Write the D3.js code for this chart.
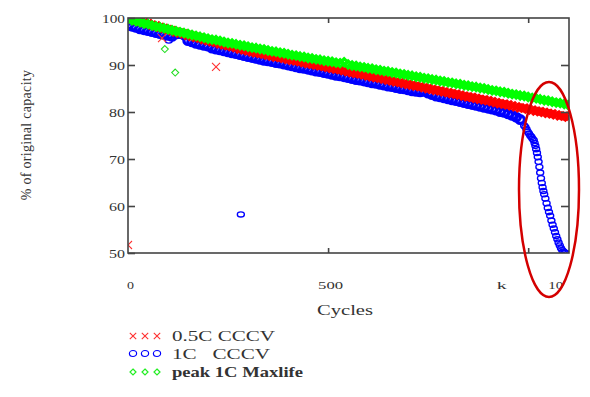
<!DOCTYPE html>
<html>
<head>
<meta charset="utf-8">
<script src="https://cdn.jsdelivr.net/npm/d3@7"></script>
<style>
  body { margin: 0; background: #fff; }
  text { font-family: "Liberation Serif", "Times New Roman", serif; fill: #333; }
</style>
</head>
<body>
<div class="chart"></div>
<script>
// Capacity readings, % of original, sampled every 10 cycles
var redValues = [
  100.0, 99.8, 99.5, 99.3, 99.0, 98.8, 98.5, 98.3, 98.0, 97.8, 97.5,
  97.3, 97.0, 96.8, 96.6, 96.3, 96.1, 95.9, 95.7, 95.4, 95.2,
  95.0, 94.8, 94.5, 94.3, 94.1, 93.9, 93.7, 93.4, 93.2, 93.0,
  92.8, 92.6, 92.5, 92.3, 92.1, 91.9, 91.7, 91.6, 91.4, 91.2,
  91.0, 90.9, 90.7, 90.5, 90.3, 90.2, 90.0, 89.8, 89.7, 89.5,
  89.3, 89.1, 89.0, 88.8, 88.6, 88.4, 88.2, 88.1, 87.9, 87.7,
  87.5, 87.3, 87.2, 87.0, 86.8, 86.6, 86.4, 86.3, 86.1, 85.9,
  85.7, 85.5, 85.4, 85.2, 85.0, 84.8, 84.6, 84.5, 84.3, 84.1,
  83.9, 83.8, 83.6, 83.4, 83.2, 83.1, 82.9, 82.7, 82.6, 82.4,
  82.2, 82.0, 81.8, 81.7, 81.5, 81.3, 81.1, 80.9, 80.8, 80.6,
  80.4, 80.2, 80.1, 79.9, 79.7, 79.6, 79.4, 79.2, 79.1, 78.9
];

var greenValues = [
  99.8, 99.5, 99.3, 99.1, 98.8, 98.7, 98.4, 98.2, 98.0, 97.8, 97.6,
  97.4, 97.2, 97.0, 96.8, 96.6, 96.4, 96.2, 96.0, 95.8, 95.6,
  95.4, 95.3, 95.1, 94.9, 94.7, 94.6, 94.4, 94.2, 94.1, 93.9,
  93.7, 93.6, 93.4, 93.3, 93.1, 92.9, 92.8, 92.6, 92.5, 92.3,
  92.1, 92.0, 91.8, 91.7, 91.5, 91.4, 91.2, 91.1, 90.9, 90.8,
  90.7, 90.5, 90.4, 90.6, 90.1, 89.9, 89.8, 89.6, 89.5, 89.3,
  89.2, 89.0, 88.9, 88.7, 88.6, 88.4, 88.3, 88.1, 88.0, 87.8,
  87.7, 87.5, 87.4, 87.2, 87.1, 86.9, 86.8, 86.6, 86.5, 86.3,
  86.2, 86.0, 85.9, 85.7, 85.6, 85.4, 85.3, 85.1, 85.0, 84.8,
  84.6, 84.5, 84.3, 84.2, 84.0, 83.8, 83.7, 83.5, 83.4, 83.2,
  83.0, 82.9, 82.7, 82.5, 82.4, 82.2, 82.0, 81.9, 81.7, 81.5
];

// 1C CCCV up to cycle 980, then the fast fade at the end of life
var blueValues = [
  98.5, 98.2, 98.0, 97.7, 97.5, 97.3, 97.1, 96.9, 96.7, 96.5, 96.3,
  96.1, 96.6, 96.7, 96.4, 95.2, 94.9, 94.6, 94.4, 94.2, 94.0,
  93.6, 93.4, 93.2, 93.0, 92.8, 92.6, 92.4, 92.2, 92.0, 91.8,
  91.6, 91.4, 91.2, 91.0, 90.9, 90.7, 90.5, 90.4, 90.2, 90.0,
  89.8, 89.6, 89.4, 89.3, 89.1, 88.9, 88.7, 88.6, 88.4, 88.2,
  88.0, 87.8, 87.7, 87.5, 87.3, 87.1, 86.9, 86.8, 86.6, 86.4,
  86.2, 86.1, 85.9, 85.7, 85.5, 85.4, 85.2, 85.0, 84.9, 84.7,
  84.5, 84.4, 84.3, 84.4, 84.0, 83.7, 83.4, 83.2, 83.0, 82.8,
  82.6, 82.4, 82.2, 82.0, 81.8, 81.6, 81.4, 81.2, 81.0, 80.8,
  80.6, 80.4, 80.1, 79.9, 79.6, 79.3, 78.9, 78.4
];

var blueTailCycles = [
  990, 993, 996, 999, 1002, 1005, 1008, 1011, 1014,
  1016, 1018, 1020, 1022, 1024, 1026, 1028, 1030, 1032, 1034, 1036, 1038, 1040,
  1043, 1046, 1049, 1052, 1055, 1058, 1061, 1064, 1067, 1070, 1073, 1076, 1079,
  1082, 1085, 1088, 1091, 1094
];
var blueTailValues = [
  77.1, 76.8, 76.3, 75.8, 75.4, 75.0, 74.7, 74.3, 74.0,
  73.4, 72.8, 72.1, 71.3, 70.4, 69.4, 68.3, 67.1, 65.9, 64.9, 64.0, 63.2, 62.5,
  61.6, 60.6, 59.6, 58.7, 57.9, 56.9, 56.0, 55.2, 54.4, 53.6, 52.9, 52.2, 51.6,
  51.0, 50.6, 50.3, 50.1, 50.0
];

// Stray readings away from the bands
var redOutCycles = [0, 85, 220];
var redOutValues = [51.7, 95.7, 89.6];
var blueOutCycles = [102, 282];
var blueOutValues = [95.2, 58.2];
var greenOutCycles = [92, 118];
var greenOutValues = [93.4, 88.4];

var yTicks = [50, 60, 70, 80, 90, 100];
var xTicks = [0, 500, 1000, 1100];
var xTickLabels = ["0", "500", "k", "10"];
var legendLabels = ["0.5C CCCV", "1C   CCCV", "peak 1C Maxlife"];

// Set up chart
var svgWidth = 590;
var svgHeight = 397;

var margin = { top: 18, right: 21, bottom: 144, left: 128 };
var width = svgWidth - margin.left - margin.right;
var height = svgHeight - margin.top - margin.bottom;

var svg = d3.select(".chart")
  .append("svg")
  .attr("width", svgWidth)
  .attr("height", svgHeight)
  .style("display", "block");

var chartGroup = svg.append("g")
  .attr("transform", `translate(${margin.left}, ${margin.top})`);

var xScale = d3.scaleLinear().domain([0, 1102]).range([0, width]);
var yScale = d3.scaleLinear().domain([50, 100]).range([height, 0]);

svg.append("defs").append("clipPath")
  .attr("id", "plotClip")
  .append("rect")
  .attr("width", width)
  .attr("height", height);

// Marker shapes
function crossPath(s) { return `M${-s},${-s}L${s},${s}M${-s},${s}L${s},${-s}`; }
function diamondPath(s) { return `M0,${-s}L${s},0L0,${s}L${-s},0Z`; }

var plot = chartGroup.append("g").attr("clip-path", "url(#plotClip)");

function toPoints(cycles, values) {
  return values.map((v, i) => ({ c: cycles[i], v: v }));
}

var tenStep = d3.range(0, 1101, 10);

// Blue band and tail
plot.append("g").selectAll("ellipse")
  .data(toPoints(tenStep, blueValues))
  .enter()
  .append("ellipse")
  .attr("cx", d => xScale(d.c))
  .attr("cy", d => yScale(d.v))
  .attr("rx", 4.2)
  .attr("ry", 3.8)
  .attr("fill", "none")
  .attr("stroke", "#0000ff")
  .attr("stroke-width", 3.2);

plot.append("g").selectAll("ellipse")
  .data(toPoints(blueTailCycles, blueTailValues).concat(toPoints(blueOutCycles, blueOutValues)))
  .enter()
  .append("ellipse")
  .attr("cx", d => xScale(d.c))
  .attr("cy", d => yScale(d.v))
  .attr("rx", 3.5)
  .attr("ry", 2.6)
  .attr("fill", "none")
  .attr("stroke", "#0000ff")
  .attr("stroke-width", 1.4);

// Red band
plot.append("g").selectAll("path")
  .data(toPoints(tenStep, redValues))
  .enter()
  .append("path")
  .attr("transform", d => `translate(${xScale(d.c)}, ${yScale(d.v)})`)
  .attr("d", crossPath(4))
  .attr("fill", "none")
  .attr("stroke", "#ff0000")
  .attr("stroke-width", 3.2);

plot.append("g").selectAll("path")
  .data(toPoints(redOutCycles, redOutValues))
  .enter()
  .append("path")
  .attr("transform", d => `translate(${xScale(d.c)}, ${yScale(d.v)})`)
  .attr("d", crossPath(4))
  .attr("fill", "none")
  .attr("stroke", "#ff3030")
  .attr("stroke-width", 1.1);

// Green band
plot.append("g").selectAll("path")
  .data(toPoints(tenStep, greenValues))
  .enter()
  .append("path")
  .attr("transform", d => `translate(${xScale(d.c)}, ${yScale(d.v)})`)
  .attr("d", diamondPath(3.6))
  .attr("fill", "none")
  .attr("stroke", "#00ff00")
  .attr("stroke-width", 3);

plot.append("g").selectAll("path")
  .data(toPoints(greenOutCycles, greenOutValues))
  .enter()
  .append("path")
  .attr("transform", d => `translate(${xScale(d.c)}, ${yScale(d.v)})`)
  .attr("d", diamondPath(3.5))
  .attr("fill", "none")
  .attr("stroke", "#22dd22")
  .attr("stroke-width", 1.1);

// Frame with inward ticks
var axisColor = "#444";
chartGroup.append("rect")
  .attr("width", width)
  .attr("height", height)
  .attr("fill", "none")
  .attr("stroke", axisColor)
  .attr("stroke-width", 1.6);

var leftAxis = d3.axisLeft(yScale)
  .tickValues(yTicks)
  .tickSize(-7)
  .tickPadding(3)
  .tickFormat(d3.format("d"));

var yAxis = chartGroup.append("g").call(leftAxis);
chartGroup.append("g")
  .attr("transform", `translate(${width}, 0)`)
  .call(d3.axisRight(yScale).tickValues(yTicks.slice(1, -1)).tickSize(-8).tickFormat(""));

var bottomAxis = d3.axisBottom(xScale)
  .tickValues(xTicks)
  .tickSize(0)
  .tickPadding(28)
  .tickFormat((d, i) => xTickLabels[i]);

var xAxis = chartGroup.append("g")
  .attr("transform", `translate(0, ${height})`)
  .call(bottomAxis);

// short tick marks at 500 and 1000 on the top and bottom edges
chartGroup.append("g")
  .attr("transform", `translate(0, ${height})`)
  .call(d3.axisBottom(xScale).tickValues([500, 1000]).tickSize(-5).tickFormat(""));
chartGroup.append("g")
  .call(d3.axisTop(xScale).tickValues([500, 1000]).tickSize(-5).tickFormat(""));

chartGroup.selectAll(".domain").remove();
chartGroup.selectAll(".tick line")
  .attr("stroke", axisColor)
  .attr("stroke-width", 1.6);

// the source renders its labels a little wide, so stretch them to fit
yAxis.selectAll("text")
  .attr("font-size", 13)
  .attr("fill", "#333")
  .attr("font-family", "Liberation Serif")
  .attr("textLength", d => d === 100 ? 23 : 16)
  .attr("lengthAdjust", "spacingAndGlyphs");

xAxis.selectAll("text")
  .attr("font-size", 11)
  .attr("fill", "#333")
  .attr("font-family", "Liberation Serif")
  .attr("dx", (d, i) => [2, 2, -27, -13][i])
  .attr("textLength", (d, i) => [7, 25, 10, 15][i])
  .attr("lengthAdjust", "spacingAndGlyphs");

// Axis titles
svg.append("text")
  .attr("transform", `translate(31, ${margin.top + 117}) rotate(-90)`)
  .attr("text-anchor", "middle")
  .attr("font-size", 14)
  .attr("letter-spacing", 0.3)
  .text("% of original capacity");

svg.append("text")
  .attr("x", 345)
  .attr("y", 315)
  .attr("text-anchor", "middle")
  .attr("font-size", 14.5)
  .attr("textLength", 56)
  .attr("lengthAdjust", "spacingAndGlyphs")
  .text("Cycles");

// Highlight of the end-of-life fade
svg.append("ellipse")
  .attr("cx", 549)
  .attr("cy", 189.5)
  .attr("rx", 30)
  .attr("ry", 107.5)
  .attr("fill", "none")
  .attr("stroke", "#d40000")
  .attr("stroke-width", 2.5);

// Legend
var legendColors = ["#ff3030", "#0000ff", "#22ee22"];
var legendGroup = svg.append("g").attr("transform", "translate(133, 336)");

legendLabels.forEach((label, i) => {
  var row = legendGroup.append("g")
    .attr("transform", `translate(0, ${[0, 17.5, 36][i]})`);

  [0, 12, 24].forEach(dx => {
    if (i === 0) {
      row.append("path")
        .attr("transform", `translate(${dx}, 0)`)
        .attr("d", crossPath(3.2))
        .attr("stroke", legendColors[i])
        .attr("stroke-width", 1.1)
        .attr("fill", "none");
    } else if (i === 1) {
      row.append("ellipse")
        .attr("cx", dx)
        .attr("rx", 3.6)
        .attr("ry", 3)
        .attr("stroke", legendColors[i])
        .attr("stroke-width", 1.2)
        .attr("fill", "none");
    } else {
      row.append("path")
        .attr("transform", `translate(${dx}, 0)`)
        .attr("d", diamondPath(3))
        .attr("stroke", legendColors[i])
        .attr("stroke-width", 1.2)
        .attr("fill", "none");
    }
  });

  row.append("text")
    .attr("x", 39)
    .attr("y", 5)
    .attr("font-size", 15)
    .attr("font-weight", i === 2 ? "bold" : "normal")
    .attr("textLength", [103, 98, 131][i])
    .attr("lengthAdjust", "spacingAndGlyphs")
    .style("white-space", "pre")
    .text(label);
});
</script>
</body>
</html>
